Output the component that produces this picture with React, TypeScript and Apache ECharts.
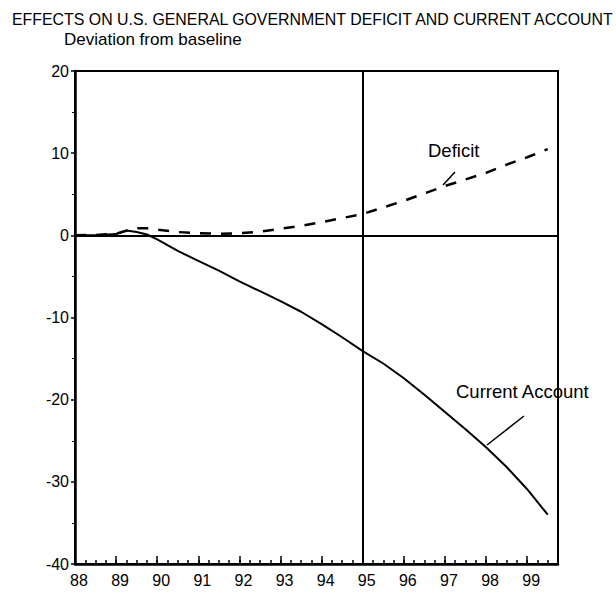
import React, { useEffect, useRef } from "react";
import * as echarts from "echarts";

const FONT = "Liberation Sans, Arial, sans-serif";

const titleText = "EFFECTS ON U.S. GENERAL GOVERNMENT DEFICIT AND CURRENT ACCOUNT";
const subtitleText = "Deviation from baseline";

// time points (years, 88 = 1988)
const times = [88, 88.5, 89, 89.25, 89.5, 89.75, 90, 90.5, 91, 91.5, 92, 92.5, 93, 93.5, 94, 94.5, 95, 95.5, 96, 96.5, 97, 97.5, 98, 98.5, 99, 99.5];
const deficit = [0, 0.05, 0.2, 0.55, 0.85, 0.85, 0.7, 0.4, 0.25, 0.2, 0.25, 0.45, 0.8, 1.15, 1.6, 2.1, 2.6, 3.4, 4.2, 5.1, 6.0, 6.8, 7.6, 8.6, 9.5, 10.5];
const currentAccount = [0, 0, 0.15, 0.6, 0.4, 0.1, -0.5, -1.9, -3.1, -4.3, -5.6, -6.8, -8.0, -9.3, -10.8, -12.4, -14.1, -15.6, -17.4, -19.4, -21.5, -23.6, -25.8, -28.2, -30.9, -34.0];

const xMin = 88;
const xMax = 99.75;
const yMin = -40;
const yMax = 20;
const dividerYear = 95;

export default function App() {
  const ref = useRef<HTMLDivElement>(null);
  useEffect(() => {
    document.body.style.margin = "0";
    if (!ref.current) return;
    const chart = echarts.init(ref.current, null, { renderer: "svg" });
    const grid = { left: 75, top: 71, width: 483, height: 493 };
    const option: any = {
      animation: false,
      backgroundColor: "#ffffff",
      grid: { ...grid, show: true, borderColor: "#000", borderWidth: 2, backgroundColor: "transparent" },
      xAxis: [
        {
          type: "value",
          min: xMin,
          max: xMax,
          interval: 1,
          position: "bottom",
          axisLine: { show: true, onZero: false, lineStyle: { color: "#000", width: 2.5 } },
          axisTick: { show: true, inside: true, length: 8, lineStyle: { color: "#000", width: 1.5 } },
          axisLabel: {
            color: "#000",
            fontFamily: FONT,
            fontSize: 16,
            margin: 8,
            padding: [0, 0, 0, 8],
            showMaxLabel: false,
            formatter: (v: number) => (Number.isInteger(v) ? String(v) : ""),
          },
          splitLine: { show: false },
        },
        {
          type: "value",
          min: xMin,
          max: xMax,
          interval: 0.25,
          position: "bottom",
          axisLine: { show: false, onZero: false },
          axisTick: { show: true, inside: true, length: 4, lineStyle: { color: "#000", width: 1.5 } },
          axisLabel: { show: false },
          splitLine: { show: false },
        },
      ],
      yAxis: {
        type: "value",
        min: yMin,
        max: yMax,
        interval: 10,
        axisLine: { show: true, onZero: false, lineStyle: { color: "#000", width: 2.5 } },
        axisTick: { show: true, inside: false, length: 4, lineStyle: { color: "#000", width: 1.5 } },
        minorTick: { show: true, splitNumber: 2, length: 3, lineStyle: { color: "#000", width: 1 } },
        axisLabel: { color: "#000", fontFamily: FONT, fontSize: 16, margin: 6 },
        splitLine: { show: false },
      },
      series: [
        {
          name: "Deficit",
          type: "line",
          xAxisIndex: 0,
          data: times.map((t, i) => [t, deficit[i]]),
          showSymbol: false,
          lineStyle: { color: "#000", width: 2.5, type: [11, 10] },
          markLine: {
            silent: true,
            symbol: "none",
            label: { show: false },
            lineStyle: { color: "#000", width: 2, type: "solid" },
            data: [{ yAxis: 0 }, { xAxis: dividerYear }],
          },
        },
        {
          name: "Current Account",
          type: "line",
          xAxisIndex: 0,
          data: times.map((t, i) => [t, currentAccount[i]]),
          showSymbol: false,
          lineStyle: { color: "#000", width: 2 },
        },
      ],
      graphic: [
        {
          type: "text",
          x: 12,
          y: 11,
          style: { text: titleText, fill: "#000", fontSize: 15.9, fontFamily: FONT },
        },
        {
          type: "text",
          x: 64,
          y: 31,
          style: { text: subtitleText, fill: "#000", fontSize: 17, fontFamily: FONT },
        },
        {
          type: "text",
          x: 428,
          y: 141,
          style: { text: "Deficit", fill: "#000", fontSize: 18.5, fontFamily: FONT },
        },
        {
          type: "line",
          shape: { x1: 455, y1: 172, x2: 443, y2: 185 },
          style: { stroke: "#000", lineWidth: 1.5 },
        },
        {
          type: "text",
          x: 456,
          y: 382,
          style: { text: "Current Account", fill: "#000", fontSize: 18.5, fontFamily: FONT },
        },
        {
          type: "line",
          shape: { x1: 524, y1: 416, x2: 487, y2: 445 },
          style: { stroke: "#000", lineWidth: 1.5 },
        },
      ],
    };
    chart.setOption(option);
    return () => chart.dispose();
  }, []);
  return <div ref={ref} style={{ width: 616, height: 595 }} />;
}
